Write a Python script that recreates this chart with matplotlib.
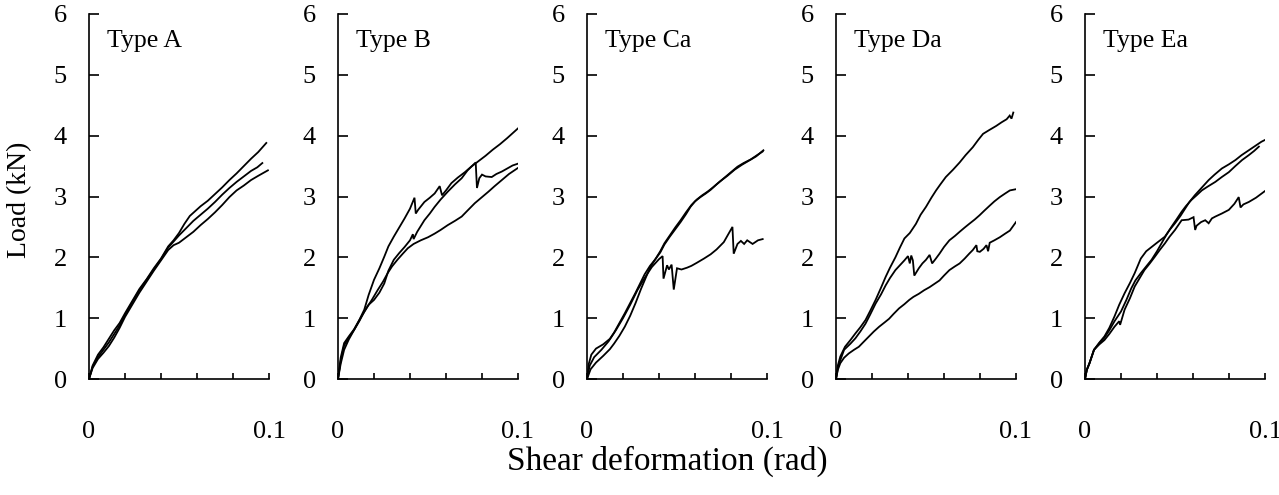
import matplotlib
matplotlib.use("Agg")
import matplotlib.pyplot as plt

plt.rcParams['font.family'] = ['Liberation Serif', 'DejaVu Serif']

panel_labels = ["Type A", "Type B", "Type Ca", "Type Da", "Type Ea"]
xtick_values = [0, 0.02, 0.04, 0.06, 0.08, 0.1]
xtick_labels = ["0", "", "", "", "", "0.1"]
ytick_values = [0, 1, 2, 3, 4, 5, 6]
ytick_labels = ["0", "1", "2", "3", "4", "5", "6"]

# ---- Type A ----
A1_x = [0, 0.002, 0.005, 0.008, 0.011, 0.014, 0.017, 0.020, 0.024, 0.028, 0.032, 0.036, 0.040, 0.044, 0.047, 0.050, 0.053, 0.056, 0.059, 0.062, 0.066, 0.070, 0.074, 0.078, 0.082, 0.086, 0.090, 0.094, 0.0985]
A1_y = [0, 0.22, 0.40, 0.52, 0.66, 0.80, 0.92, 1.08, 1.28, 1.48, 1.64, 1.82, 1.98, 2.18, 2.28, 2.40, 2.55, 2.68, 2.76, 2.84, 2.93, 3.04, 3.15, 3.27, 3.38, 3.50, 3.62, 3.73, 3.88]
A2_x = [0, 0.002, 0.005, 0.008, 0.011, 0.014, 0.017, 0.020, 0.024, 0.028, 0.032, 0.036, 0.040, 0.044, 0.047, 0.050, 0.054, 0.058, 0.062, 0.066, 0.070, 0.074, 0.078, 0.082, 0.086, 0.090, 0.0935, 0.0963]
A2_y = [0, 0.20, 0.36, 0.48, 0.60, 0.74, 0.88, 1.05, 1.26, 1.46, 1.63, 1.80, 1.97, 2.16, 2.26, 2.36, 2.48, 2.60, 2.70, 2.80, 2.91, 3.03, 3.14, 3.24, 3.33, 3.42, 3.48, 3.55]
A3_x = [0, 0.002, 0.005, 0.008, 0.011, 0.014, 0.017, 0.020, 0.024, 0.028, 0.032, 0.036, 0.040, 0.044, 0.047, 0.050, 0.054, 0.058, 0.062, 0.066, 0.070, 0.074, 0.078, 0.082, 0.086, 0.090, 0.094, 0.0994]
A3_y = [0, 0.18, 0.33, 0.43, 0.54, 0.68, 0.84, 1.02, 1.22, 1.42, 1.60, 1.78, 1.95, 2.12, 2.20, 2.24, 2.33, 2.42, 2.53, 2.63, 2.74, 2.86, 2.99, 3.10, 3.18, 3.27, 3.34, 3.43]

# ---- Type B ----
B1_x = [0, 0.0015, 0.0034, 0.006, 0.009, 0.012, 0.0146, 0.017, 0.020, 0.023, 0.0257, 0.028, 0.031, 0.034, 0.037, 0.040, 0.0425, 0.0432, 0.0445, 0.048, 0.051, 0.0537, 0.0565, 0.0578, 0.060, 0.063, 0.0665, 0.0705, 0.074, 0.078, 0.082, 0.086, 0.090, 0.094, 0.097, 0.100]
B1_y = [0, 0.35, 0.59, 0.70, 0.82, 0.98, 1.14, 1.38, 1.63, 1.82, 2.01, 2.18, 2.34, 2.49, 2.64, 2.80, 2.98, 2.72, 2.78, 2.91, 2.98, 3.05, 3.17, 3.02, 3.10, 3.22, 3.31, 3.40, 3.49, 3.58, 3.67, 3.77, 3.86, 3.96, 4.04, 4.12]
B2_x = [0, 0.0015, 0.0034, 0.006, 0.009, 0.012, 0.0146, 0.017, 0.020, 0.023, 0.0257, 0.028, 0.031, 0.034, 0.037, 0.040, 0.0416, 0.042, 0.044, 0.048, 0.051, 0.0537, 0.057, 0.061, 0.065, 0.0687, 0.072, 0.0765, 0.0772, 0.0785, 0.080, 0.082, 0.0854, 0.088, 0.091, 0.094, 0.097, 0.100]
B2_y = [0, 0.30, 0.55, 0.68, 0.81, 0.96, 1.11, 1.22, 1.30, 1.42, 1.57, 1.78, 1.96, 2.07, 2.17, 2.28, 2.38, 2.30, 2.42, 2.61, 2.72, 2.83, 2.95, 3.08, 3.20, 3.30, 3.43, 3.56, 3.14, 3.30, 3.36, 3.33, 3.32, 3.37, 3.41, 3.46, 3.51, 3.54]
B3_x = [0, 0.0015, 0.0034, 0.006, 0.009, 0.0125, 0.0164, 0.019, 0.022, 0.025, 0.0276, 0.030, 0.033, 0.036, 0.0388, 0.042, 0.046, 0.050, 0.0537, 0.057, 0.061, 0.065, 0.0687, 0.072, 0.076, 0.080, 0.0836, 0.087, 0.091, 0.095, 0.100]
B3_y = [0, 0.25, 0.48, 0.65, 0.81, 1.00, 1.19, 1.31, 1.46, 1.60, 1.74, 1.85, 1.96, 2.06, 2.15, 2.22, 2.28, 2.33, 2.39, 2.45, 2.53, 2.60, 2.67, 2.77, 2.89, 2.99, 3.08, 3.17, 3.27, 3.37, 3.47]

# ---- Type Ca ----
C1_x = [0, 0.001, 0.0024, 0.005, 0.009, 0.0127, 0.015, 0.018, 0.021, 0.024, 0.027, 0.0295, 0.032, 0.035, 0.038, 0.0407, 0.043, 0.046, 0.049, 0.052, 0.055, 0.0575, 0.060, 0.063, 0.066, 0.0687, 0.072, 0.076, 0.080, 0.0836, 0.087, 0.091, 0.094, 0.0976]
C1_y = [0, 0.25, 0.40, 0.50, 0.57, 0.66, 0.76, 0.92, 1.08, 1.25, 1.42, 1.57, 1.72, 1.86, 1.97, 2.08, 2.21, 2.34, 2.46, 2.58, 2.71, 2.83, 2.92, 2.99, 3.05, 3.11, 3.20, 3.30, 3.40, 3.49, 3.55, 3.61, 3.67, 3.74]
C2_x = [0, 0.002, 0.005, 0.009, 0.0127, 0.015, 0.018, 0.021, 0.024, 0.027, 0.030, 0.035, 0.038, 0.0407, 0.043, 0.046, 0.049, 0.052, 0.055, 0.058, 0.061, 0.064, 0.067, 0.070, 0.074, 0.078, 0.082, 0.086, 0.090, 0.094, 0.098]
C2_y = [0, 0.16, 0.27, 0.38, 0.49, 0.58, 0.71, 0.86, 1.04, 1.25, 1.48, 1.83, 1.97, 2.10, 2.23, 2.36, 2.49, 2.61, 2.74, 2.86, 2.95, 3.02, 3.08, 3.15, 3.25, 3.34, 3.44, 3.52, 3.59, 3.66, 3.76]
C3_x = [0, 0.0015, 0.004, 0.008, 0.012, 0.016, 0.020, 0.024, 0.028, 0.032, 0.036, 0.040, 0.042, 0.0425, 0.0445, 0.0455, 0.047, 0.0482, 0.050, 0.0525, 0.0556, 0.058, 0.061, 0.065, 0.0687, 0.072, 0.076, 0.0808, 0.0815, 0.0836, 0.0855, 0.0873, 0.089, 0.092, 0.095, 0.0976]
C3_y = [0, 0.22, 0.36, 0.48, 0.62, 0.80, 1.00, 1.22, 1.46, 1.66, 1.84, 1.97, 2.02, 1.65, 1.87, 1.80, 1.88, 1.47, 1.82, 1.80, 1.83, 1.86, 1.91, 1.98, 2.05, 2.13, 2.25, 2.50, 2.06, 2.22, 2.27, 2.22, 2.28, 2.22, 2.28, 2.30]

# ---- Type Da ----
D1_x = [0, 0.001, 0.0024, 0.005, 0.008, 0.0108, 0.0135, 0.0164, 0.019, 0.022, 0.025, 0.0276, 0.030, 0.033, 0.0355, 0.038, 0.041, 0.0444, 0.047, 0.050, 0.053, 0.0556, 0.058, 0.061, 0.065, 0.0687, 0.072, 0.076, 0.079, 0.0817, 0.085, 0.089, 0.092, 0.0948, 0.0965, 0.0975, 0.0985]
D1_y = [0, 0.22, 0.37, 0.53, 0.64, 0.75, 0.85, 0.97, 1.12, 1.30, 1.50, 1.68, 1.83, 2.00, 2.16, 2.31, 2.40, 2.55, 2.70, 2.83, 2.98, 3.10, 3.20, 3.32, 3.44, 3.56, 3.68, 3.81, 3.93, 4.03, 4.09, 4.16, 4.22, 4.27, 4.33, 4.28, 4.38]
D2_x = [0, 0.0012, 0.0024, 0.0045, 0.008, 0.0108, 0.0135, 0.0164, 0.019, 0.022, 0.025, 0.0276, 0.030, 0.033, 0.0355, 0.038, 0.040, 0.041, 0.0418, 0.0427, 0.0435, 0.046, 0.048, 0.050, 0.052, 0.0534, 0.0555, 0.0575, 0.060, 0.063, 0.066, 0.0687, 0.0715, 0.074, 0.077, 0.0797, 0.0825, 0.0854, 0.088, 0.091, 0.094, 0.0966, 0.100]
D2_y = [0, 0.20, 0.31, 0.48, 0.58, 0.67, 0.78, 0.91, 1.06, 1.24, 1.39, 1.54, 1.66, 1.79, 1.87, 1.95, 2.02, 1.90, 2.03, 1.95, 1.70, 1.82, 1.90, 1.96, 2.04, 1.90, 1.98, 2.06, 2.17, 2.28, 2.35, 2.42, 2.49, 2.55, 2.62, 2.69, 2.77, 2.85, 2.92, 2.99, 3.05, 3.10, 3.12]
D3_x = [0, 0.001, 0.0024, 0.0045, 0.0071, 0.010, 0.0127, 0.015, 0.018, 0.021, 0.024, 0.027, 0.0295, 0.032, 0.035, 0.038, 0.0407, 0.043, 0.046, 0.049, 0.052, 0.055, 0.0575, 0.060, 0.063, 0.066, 0.0687, 0.0715, 0.074, 0.076, 0.078, 0.0785, 0.0799, 0.082, 0.0836, 0.0845, 0.0854, 0.088, 0.091, 0.094, 0.0966, 0.100]
D3_y = [0, 0.15, 0.26, 0.35, 0.42, 0.48, 0.53, 0.60, 0.69, 0.78, 0.86, 0.93, 0.99, 1.07, 1.16, 1.23, 1.30, 1.35, 1.40, 1.46, 1.51, 1.57, 1.62, 1.70, 1.79, 1.85, 1.90, 1.98, 2.06, 2.12, 2.20, 2.10, 2.09, 2.14, 2.20, 2.10, 2.24, 2.28, 2.33, 2.39, 2.44, 2.58]

# ---- Type Ea ----
E1_x = [0, 0.001, 0.0025, 0.005, 0.008, 0.0108, 0.0135, 0.0164, 0.019, 0.022, 0.025, 0.0276, 0.031, 0.034, 0.037, 0.040, 0.0444, 0.047, 0.050, 0.053, 0.0556, 0.058, 0.061, 0.065, 0.0687, 0.072, 0.076, 0.080, 0.0836, 0.087, 0.091, 0.095, 0.098, 0.100]
E1_y = [0, 0.15, 0.26, 0.48, 0.60, 0.70, 0.84, 1.03, 1.22, 1.41, 1.58, 1.74, 1.98, 2.10, 2.17, 2.24, 2.34, 2.45, 2.56, 2.68, 2.80, 2.91, 3.02, 3.15, 3.27, 3.36, 3.46, 3.53, 3.60, 3.68, 3.76, 3.84, 3.90, 3.93]
E2_x = [0, 0.001, 0.0025, 0.005, 0.008, 0.0108, 0.0135, 0.0164, 0.020, 0.023, 0.0257, 0.028, 0.031, 0.034, 0.037, 0.040, 0.0425, 0.045, 0.048, 0.051, 0.0537, 0.056, 0.059, 0.062, 0.0649, 0.068, 0.0724, 0.076, 0.0799, 0.0835, 0.0873, 0.091, 0.094, 0.0966]
E2_y = [0, 0.15, 0.26, 0.48, 0.59, 0.68, 0.80, 0.95, 1.11, 1.30, 1.49, 1.62, 1.74, 1.85, 1.96, 2.10, 2.23, 2.36, 2.50, 2.63, 2.75, 2.84, 2.94, 3.02, 3.10, 3.16, 3.24, 3.32, 3.40, 3.50, 3.60, 3.68, 3.75, 3.82]
E3_x = [0, 0.001, 0.0025, 0.005, 0.008, 0.0108, 0.0135, 0.0164, 0.019, 0.0195, 0.022, 0.025, 0.0276, 0.030, 0.033, 0.036, 0.0388, 0.0415, 0.0444, 0.047, 0.050, 0.0537, 0.0575, 0.0603, 0.0612, 0.062, 0.0645, 0.0668, 0.0687, 0.0705, 0.0724, 0.076, 0.0799, 0.083, 0.0854, 0.0864, 0.088, 0.091, 0.095, 0.100]
E3_y = [0, 0.15, 0.26, 0.48, 0.57, 0.64, 0.74, 0.86, 0.95, 0.89, 1.14, 1.33, 1.52, 1.64, 1.79, 1.90, 2.01, 2.12, 2.23, 2.34, 2.45, 2.61, 2.62, 2.66, 2.45, 2.52, 2.58, 2.61, 2.56, 2.64, 2.67, 2.72, 2.78, 2.88, 2.99, 2.82, 2.87, 2.91, 2.98, 3.09]

panels = [
    [(A1_x, A1_y), (A2_x, A2_y), (A3_x, A3_y)],
    [(B1_x, B1_y), (B2_x, B2_y), (B3_x, B3_y)],
    [(C1_x, C1_y), (C2_x, C2_y), (C3_x, C3_y)],
    [(D1_x, D1_y), (D2_x, D2_y), (D3_x, D3_y)],
    [(E1_x, E1_y), (E2_x, E2_y), (E3_x, E3_y)],
]

W, H = 1279, 495
fig = plt.figure(figsize=(W / 100, H / 100), dpi=100)

left_px = [89, 338, 587, 836, 1085]
ax_w, top_px, bot_px = 180, 14, 379

for i, (lx, curves) in enumerate(zip(left_px, panels)):
    ax = fig.add_axes([lx / W, 1 - bot_px / H, ax_w / W, (bot_px - top_px) / H])
    for cx, cy in curves:
        ax.plot(cx, cy, color='black', lw=1.3, solid_joinstyle='miter')
    ax.set_xlim(0, 0.1)
    ax.set_ylim(0, 6)
    for s in ['top', 'right']:
        ax.spines[s].set_visible(False)
    for s in ['left', 'bottom']:
        ax.spines[s].set_linewidth(1.2)
    ax.set_xticks(xtick_values)
    ax.set_xticklabels(xtick_labels)
    ax.set_yticks(ytick_values)
    ax.set_yticklabels(ytick_labels if True else [])
    ax.tick_params(axis='x', direction='in', length=4, width=1.2, pad=30, labelsize=19)
    ax.tick_params(axis='y', direction='in', length=7, width=1.2, pad=16, labelsize=19)
    ax.text(0.1, 0.925, panel_labels[i], transform=ax.transAxes, fontsize=18.5,
            ha='left', va='center')
    ax.patch.set_alpha(0)

fig.text(20 / W, 1 - 200 / H, "Load (kN)", rotation=90, ha='center', va='center', fontsize=20)
fig.text(667 / W, 1 - 470 / H, "Shear deformation (rad)", ha='center', va='baseline', fontsize=24)

fig.savefig("out.png", dpi=100)
